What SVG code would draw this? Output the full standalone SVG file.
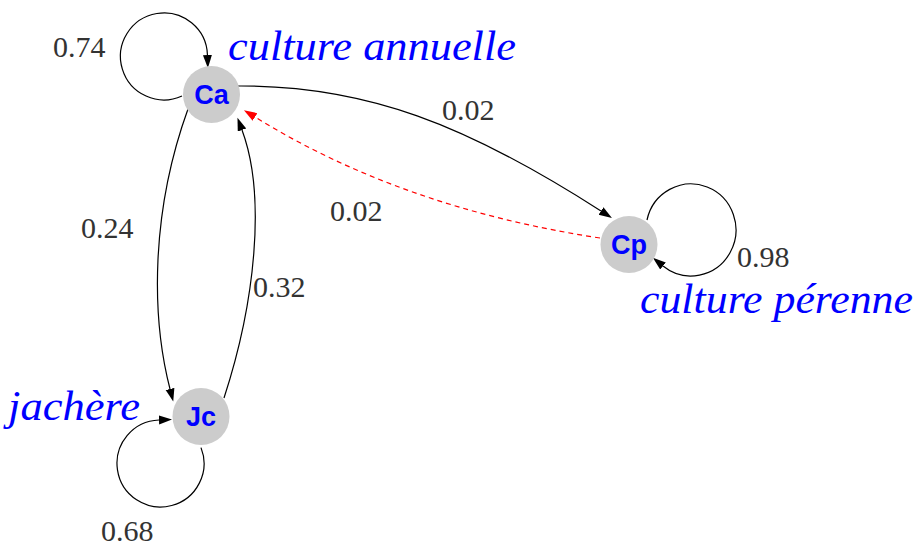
<svg xmlns="http://www.w3.org/2000/svg" width="917" height="546" viewBox="0 0 917 546">
<style>
.node circle{fill:#cccccc;stroke:none}
.node text{font-family:"Liberation Sans",Arial,sans-serif;font-weight:bold;font-size:27px;fill:#0000ff;text-anchor:middle}
.edge{fill:none;stroke:#000;stroke-width:1.2}
.dash{fill:none;stroke:#ff0000;stroke-width:1.2;stroke-dasharray:5,4}
.num{font-size:30px;fill:#333333}
.lbl{font-style:italic;font-size:43px;fill:#0000ff}
</style>
<defs>
<marker id="ah" markerUnits="userSpaceOnUse" markerWidth="14" markerHeight="10" refX="0" refY="4.5" orient="auto"><path d="M0,0 L13,4.5 L0,9 z" fill="#000"/></marker>
<marker id="ahr" markerUnits="userSpaceOnUse" markerWidth="14" markerHeight="10" refX="0" refY="4.5" orient="auto"><path d="M0,0 L13,4.5 L0,9 z" fill="#ff0000"/></marker>
</defs>
<g id="connectors">
<path class="edge" marker-end="url(#ah)" d="M182,96 A43.5,43.5 0 1 1 207.45,55"/>
<path class="edge" marker-end="url(#ah)" d="M647,220 A45,46 0 1 1 663,266"/>
<path class="edge" marker-end="url(#ah)" d="M201,447.6 A43.5,43.5 0 1 1 159,420"/>
<path class="edge" marker-end="url(#ah)" d="M237,86 C366,85 467,125 601,211"/>
<path class="dash" marker-end="url(#ahr)" d="M600,238 Q402,208 255,117"/>
<path class="edge" marker-end="url(#ah)" d="M188,109 C150.6,212.4 151.25,316.25 170,389"/>
<path class="edge" marker-end="url(#ah)" d="M224,398 C255,303 266.5,195.8 242,130"/>
</g>
<g id="edge-labels" font-family="'Liberation Serif', 'DejaVu Serif', serif">
<text class="num" x="53" y="57">0.74</text>
<text class="num" x="442" y="120">0.02</text>
<text class="num" x="330" y="221">0.02</text>
<text class="num" x="81" y="238">0.24</text>
<text class="num" x="253" y="297">0.32</text>
<text class="num" x="737" y="267">0.98</text>
<text class="num" x="101" y="541">0.68</text>
</g>
<g id="node-labels" font-family="'Liberation Serif', 'DejaVu Serif', serif">
<text class="lbl" x="228" y="60" textLength="288" lengthAdjust="spacingAndGlyphs">culture annuelle</text>
<text class="lbl" x="640" y="313" textLength="273" lengthAdjust="spacingAndGlyphs">culture pérenne</text>
<text class="lbl" x="8" y="420" textLength="132" lengthAdjust="spacingAndGlyphs">jachère</text>
</g>
<g id="Ca" class="node"><circle cx="211.5" cy="94.5" r="28.5"/><text x="211.5" y="104">Ca</text></g>
<g id="Cp" class="node"><circle cx="629" cy="244.5" r="28.5"/><text x="629" y="254">Cp</text></g>
<g id="Jc" class="node"><circle cx="201" cy="416.5" r="28.5"/><text x="201" y="426">Jc</text></g>
</svg>
